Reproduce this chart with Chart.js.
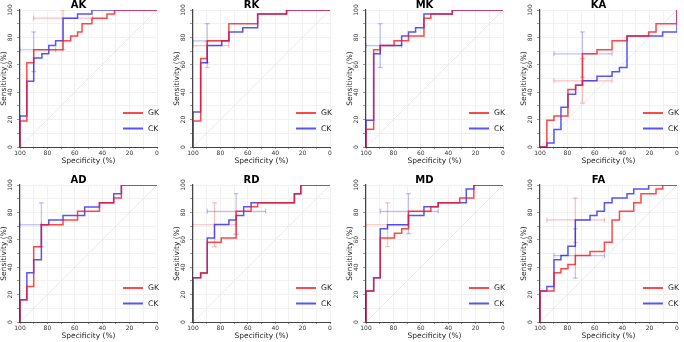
<!DOCTYPE html>
<html>
<head>
<meta charset="utf-8">
<script src="https://cdn.jsdelivr.net/npm/chart.js@4.4.0/dist/chart.umd.min.js"></script>
<style>
  html, body { margin: 0; padding: 0; background: #fff; }
  body { position: relative; width: 684px; height: 342px; overflow: hidden; }
  canvas { position: absolute; }
</style>
</head>
<body>
<script>
// ROC step curves: each point is (specificity, sensitivity) after the step
const akGkSpec = [100, 95, 90, 68.6, 63, 58, 54.7, 47.5, 36.5, 31, 0];
const akGkSens = [0, 19, 61.5, 71, 77.5, 81, 84, 90, 94, 97, 100];
const akCkSpec = [100, 95, 90, 84, 79, 74, 68.6, 58, 47.5, 0];
const akCkSens = [0, 22.7, 48, 65, 68, 74, 77.5, 94, 97, 100];

const rkGkSpec = [100, 94.4, 89.6, 73.8, 52.8, 31.7, 0];
const rkGkSens = [0, 19, 64.6, 77.5, 90, 97, 100];
const rkCkSpec = [100, 94.4, 89.6, 79, 73.8, 63.7, 52.8, 31.7, 0];
const rkCkSens = [0, 25.6, 61.5, 74, 77.5, 84, 87, 97, 100];

const mkGkSpec = [100, 94.4, 89.6, 79.5, 69, 57.7, 52.7, 37, 0];
const mkGkSens = [0, 13, 71, 74, 77.5, 81, 94, 97, 100];
const mkCkSpec = [100, 94.4, 89.6, 74, 69, 63.8, 57.7, 37, 0];
const mkCkSens = [0, 19.5, 68, 74, 81, 84, 87, 97, 100];

const kaGkSpec = [100, 95, 89.8, 79.6, 74, 69, 58.4, 47.4, 36.5, 20.7, 15.3, 0, 0];
const kaGkSens = [0, 0, 19.5, 22.7, 42, 45, 68, 71, 77.5, 81, 84, 90, 100];
const kaCkSpec = [100, 95, 89.8, 84.7, 79.6, 74, 69, 58.4, 47.4, 42, 36.5, 10.5, 0, 0];
const kaCkSens = [0, 0, 3, 12.7, 29, 38.5, 45, 48.3, 51.7, 55, 58, 81, 84, 100];

const adGkSpec = [100, 95, 90, 84.4, 68.6, 58, 42, 31.6, 26, 0];
const adGkSens = [0, 16.3, 26, 55, 71, 74.5, 80.8, 87, 90.5, 100];
const adCkSpec = [100, 95, 90, 84.4, 79, 68.6, 52.8, 42, 31.6, 26, 0];
const adCkSens = [0, 16.3, 35.9, 45.4, 71, 74.5, 77.7, 84, 87, 93.7, 100];

const rdGkSpec = [100, 94.4, 89.6, 79.4, 68.5, 57.6, 52.8, 26, 21.3, 0];
const rdGkSens = [0, 32.3, 35.7, 58.3, 61.4, 80.8, 84.2, 87, 93.7, 100];
const rdCkSpec = [100, 94.4, 89.6, 84.3, 73.8, 68.5, 63, 57.6, 26, 21.3, 0];
const rdCkSens = [0, 32.3, 35.7, 61.4, 71.1, 74.5, 77.7, 84.2, 87, 93.7, 100];

const mdGkSpec = [100, 94.4, 89.6, 79.2, 73.9, 69, 52.7, 47.3, 31.6, 21.3, 0];
const mdGkSens = [0, 22.6, 32.3, 61.4, 64.8, 68, 80.8, 84.2, 87, 90.5, 100];
const mdCkSpec = [100, 94.4, 89.6, 84.3, 69, 57.7, 52.7, 47.3, 26.8, 21.3, 0];
const mdCkSens = [0, 22.6, 32.3, 68, 71, 77.7, 84.2, 84.2, 87, 97, 100];

const faGkSpec = [100, 89.8, 84.7, 79.6, 74.2, 63.5, 53, 47.4, 42, 31.6, 26.3, 15.3, 10.5, 0];
const faGkSens = [0, 22.6, 35.9, 38.8, 42, 48.5, 51.5, 58.3, 74.5, 80.8, 87, 93.7, 97, 100];
const faCkSpec = [100, 95, 89.8, 84.7, 79.6, 74.2, 63.5, 58.4, 53, 47.4, 36.5, 31.6, 20.7, 0];
const faCkSens = [0, 22.6, 26, 45.4, 48.5, 55.3, 74.5, 77.7, 80.8, 87, 90.5, 93.7, 97, 100];

// confidence crosses: [sens of horizontal bar, spec from, spec to, spec of vertical bar, sens from, sens to]
const akGkCi = [94, 90, 47, 68.6, 71, 100];
const akCkCi = [71, 100, 74, 90, 55, 84];
const rkGkCi = [74, 100, 73.8, 89.6, 58, 77];
const rkCkCi = [77.5, 100, 73.8, 89.6, 61.5, 90];
const mkCkCi = [74, 100, 74, 89.6, 58, 90];
const kaGkCi = [48.3, 89.8, 47.4, 69, 32, 64.6];
const kaCkCi = [68, 89.8, 47.4, 69, 51, 84];
const adCkCi = [71, 100, 84.4, 84.4, 55, 87];
const rdGkCi = [71, 100, 68.5, 84.3, 55, 87];
const rdCkCi = [80.8, 89.6, 47, 68.5, 64, 93.7];
const mdGkCi = [71, 100, 69, 84.3, 55, 87];
const mdCkCi = [80.8, 89.6, 47.3, 69, 64.5, 93.7];
const faGkCi = [74.5, 95, 53, 74.2, 58, 90.5];
const faCkCi = [48.5, 89.8, 53, 74.2, 32, 68];

const seriesNames = ["GK", "CK"];
const panelTitles = ["AK", "RK", "MK", "KA", "AD", "RD", "MD", "FA"];

const panels = [
  { gk: [akGkSpec, akGkSens], ck: [akCkSpec, akCkSens], gkCi: akGkCi, ckCi: akCkCi },
  { gk: [rkGkSpec, rkGkSens], ck: [rkCkSpec, rkCkSens], gkCi: rkGkCi, ckCi: rkCkCi },
  { gk: [mkGkSpec, mkGkSens], ck: [mkCkSpec, mkCkSens], gkCi: null, ckCi: mkCkCi },
  { gk: [kaGkSpec, kaGkSens], ck: [kaCkSpec, kaCkSens], gkCi: kaGkCi, ckCi: kaCkCi },
  { gk: [adGkSpec, adGkSens], ck: [adCkSpec, adCkSens], gkCi: null, ckCi: adCkCi },
  { gk: [rdGkSpec, rdGkSens], ck: [rdCkSpec, rdCkSens], gkCi: rdGkCi, ckCi: rdCkCi },
  { gk: [mdGkSpec, mdGkSens], ck: [mdCkSpec, mdCkSens], gkCi: mdGkCi, ckCi: mdCkCi },
  { gk: [faGkSpec, faGkSens], ck: [faCkSpec, faCkSens], gkCi: faGkCi, ckCi: faCkCi },
];

const RED = "rgba(255, 20, 20, 0.78)";
const BLUE = "rgba(20, 20, 255, 0.72)";
const RED_CI = "rgba(255, 40, 40, 0.3)";
const BLUE_CI = "rgba(40, 40, 255, 0.3)";
const FONT = "'DejaVu Sans', sans-serif";

// plot area placement (px)
const plotLefts = [20, 193, 366, 540];
const plotTops = [10, 185];
const PLOT_W = 137, PLOT_H = 137;
const Y_AXIS_W = 20, X_AXIS_H = 19, TITLE_H = 10, RIGHT_PAD = 6;

function toPoints(spec, sens) {
  return spec.map((s, i) => ({ x: s, y: sens[i] }));
}

function ciDatasets(ci, color) {
  if (!ci) return [];
  const common = {
    borderColor: color,
    borderWidth: 1.2,
    pointStyle: "line",
    pointRadius: 2.5,
    pointBorderColor: color,
    pointBorderWidth: 1.2,
    order: 5,
  };
  return [
    { ...common, data: [{ x: ci[1], y: ci[0] }, { x: ci[2], y: ci[0] }], pointRotation: 90 },
    { ...common, data: [{ x: ci[3], y: ci[4] }, { x: ci[3], y: ci[5] }], pointRotation: 0 },
  ];
}

const cornerLegend = {
  id: "cornerLegend",
  afterDatasetsDraw(chart) {
    const { ctx, chartArea } = chart;
    const items = chart.data.datasets.filter((d) => d.inLegend);
    ctx.save();
    ctx.font = "7.7px " + FONT;
    ctx.textBaseline = "middle";
    ctx.fillStyle = "#222";
    items.forEach((d, i) => {
      const y = chartArea.bottom - 34 + i * 15.5;
      ctx.strokeStyle = d.borderColor;
      ctx.lineWidth = 2;
      ctx.beginPath();
      ctx.moveTo(chartArea.right - 34, y);
      ctx.lineTo(chartArea.right - 14, y);
      ctx.stroke();
      ctx.fillText(d.label, chartArea.right - 9, y + 0.5);
    });
    ctx.restore();
  },
};

function fixWidth(w) {
  return (scale) => {
    scale.width = w;
    scale.paddingTop = 0;
    scale.paddingBottom = 0;
  };
}
function fixHeight(h) {
  return (scale) => {
    scale.height = h;
    scale.paddingLeft = 0;
    scale.paddingRight = 0;
  };
}

const labelEvery20 = (v) => (v % 20 === 0 ? v : "");

panels.forEach((p, idx) => {
  const col = idx % 4, row = Math.floor(idx / 4);
  const canvas = document.createElement("canvas");
  const w = Y_AXIS_W + PLOT_W + RIGHT_PAD;
  const h = TITLE_H + PLOT_H + X_AXIS_H;
  canvas.width = w;
  canvas.height = h;
  canvas.style.width = w + "px";
  canvas.style.height = h + "px";
  canvas.style.left = plotLefts[col] - Y_AXIS_W + "px";
  canvas.style.top = plotTops[row] - TITLE_H + "px";
  document.body.appendChild(canvas);

  new Chart(canvas.getContext("2d"), {
    type: "line",
    data: {
      datasets: [
        {
          label: seriesNames[0],
          inLegend: true,
          data: toPoints(p.gk[0], p.gk[1]),
          borderColor: RED,
          borderWidth: 1.5,
          stepped: "after",
          pointRadius: 0,
          order: 1,
        },
        {
          label: seriesNames[1],
          inLegend: true,
          data: toPoints(p.ck[0], p.ck[1]),
          borderColor: BLUE,
          borderWidth: 1.5,
          stepped: "after",
          pointRadius: 0,
          order: 2,
        },
        ...ciDatasets(p.gkCi, RED_CI),
        ...ciDatasets(p.ckCi, BLUE_CI),
        {
          data: [{ x: 100, y: 0 }, { x: 0, y: 100 }],
          borderColor: "#ebebeb",
          borderWidth: 1,
          pointRadius: 0,
          order: 10,
        },
      ],
    },
    options: {
      responsive: false,
      animation: false,
      devicePixelRatio: 1,
      layout: { padding: { left: 0, top: 0, right: RIGHT_PAD, bottom: 0 } },
      plugins: {
        legend: { display: false },
        tooltip: { enabled: false },
        title: {
          display: true,
          text: panelTitles[idx],
          color: "#000",
          font: { family: FONT, size: 10, weight: "bold", lineHeight: 1 },
          padding: 0,
        },
      },
      scales: {
        x: {
          type: "linear",
          reverse: true,
          min: 0,
          max: 100,
          afterFit: fixHeight(X_AXIS_H),
          border: { display: true, color: "#444", width: 1 },
          grid: { color: "#f1f1f1", tickLength: 2, tickColor: "#999" },
          ticks: {
            stepSize: 10,
            autoSkip: false,
            maxRotation: 0,
            minRotation: 0,
            padding: 1,
            color: "#333",
            font: { family: FONT, size: 6 },
            callback: labelEvery20,
          },
          title: {
            display: true,
            text: "Specificity (%)",
            color: "#222",
            padding: 0,
            font: { family: FONT, size: 7.5 },
          },
        },
        y: {
          type: "linear",
          min: 0,
          max: 100,
          afterFit: fixWidth(Y_AXIS_W),
          border: { display: true, color: "#444", width: 1.2 },
          grid: { color: "#f1f1f1", tickLength: 3, tickColor: "#999" },
          ticks: {
            stepSize: 10,
            autoSkip: false,
            minRotation: 90,
            maxRotation: 90,
            crossAlign: "center",
            padding: 1,
            color: "#333",
            font: { family: FONT, size: 6 },
            callback: labelEvery20,
          },
          title: {
            display: true,
            text: "Sensitivity (%)",
            color: "#222",
            padding: 0,
            font: { family: FONT, size: 7.5 },
          },
        },
      },
    },
    plugins: [cornerLegend],
  });
});
</script>
</body>
</html>
